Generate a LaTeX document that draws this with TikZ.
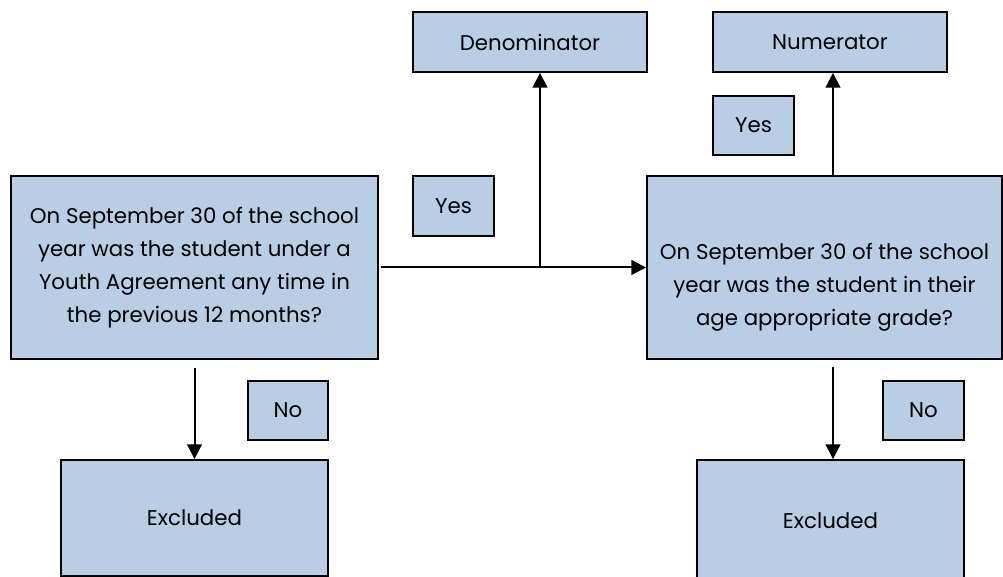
\documentclass[tikz,border=0pt]{standalone}
\usepackage{fontspec}
\setmainfont{Poppins}
\usetikzlibrary{arrows.meta}
\definecolor{boxblue}{HTML}{B9CDE5}

\begin{document}
\begin{tikzpicture}
    [x=0.75pt,y=-0.75pt,
     box/.style={draw=black,line width=1.4pt,fill=boxblue,inner sep=0pt,align=center,
       font=\fontsize{16}{24.75}\selectfont},
     arr/.style={-{Triangle[width=11pt,length=11pt]},line width=1.5pt}]
  \clip (0,0) rectangle (1003,577);
  % first question and its outcomes
  \node[box,minimum width=275.25pt,minimum height=137.25pt] (qone) at (194.5,267.5)
    {On September 30 of the school\\year was the student under a\\Youth Agreement any time in\\the previous 12 months?};
  \node[box,minimum width=175.5pt,minimum height=45pt] (denom) at (530,42) {Denominator};
  \node[box,minimum width=60.75pt,minimum height=45pt] (yesa) at (453.5,206) {Yes};
  \node[box,minimum width=60pt,minimum height=44.25pt] (noa) at (288,410.5) {No};
  \node[box,minimum width=200.25pt,minimum height=87pt] (exca) at (194.5,518) {Excluded};
  % second question and its outcomes
  \node[box,minimum width=266.25pt,minimum height=137.25pt] (qtwo) at (824.5,267.5)
    {\strut\\On September 30 of the school\\year was the student in their\\age appropriate grade?};
  \node[box,minimum width=175.5pt,minimum height=45pt] (numer) at (830,42) {Numerator};
  \node[box,minimum width=60.75pt,minimum height=44.25pt] (yesb) at (753.5,125.5) {Yes};
  \node[box,minimum width=60.75pt,minimum height=44.25pt] (nob) at (923.5,410.5) {No};
  \node[box,minimum width=200.25pt,minimum height=91.5pt] (excb) at (830.5,521) {Excluded};
  % connectors
  \coordinate (split) at (540,266);
  \coordinate (upb) at (833,176);
  \coordinate (downb) at (833,367);
  \draw[arr] ([xshift=1.5pt]qone.east) -- (qtwo.west);
  \draw[arr] (split) -- (split |- denom.south);
  \draw[arr] (upb) -- (upb |- numer.south);
  \draw[arr] ([yshift=-6pt]qone.south) -- (exca.north);
  \draw[arr] (downb) -- (downb |- excb.north);
\end{tikzpicture}
\end{document}
